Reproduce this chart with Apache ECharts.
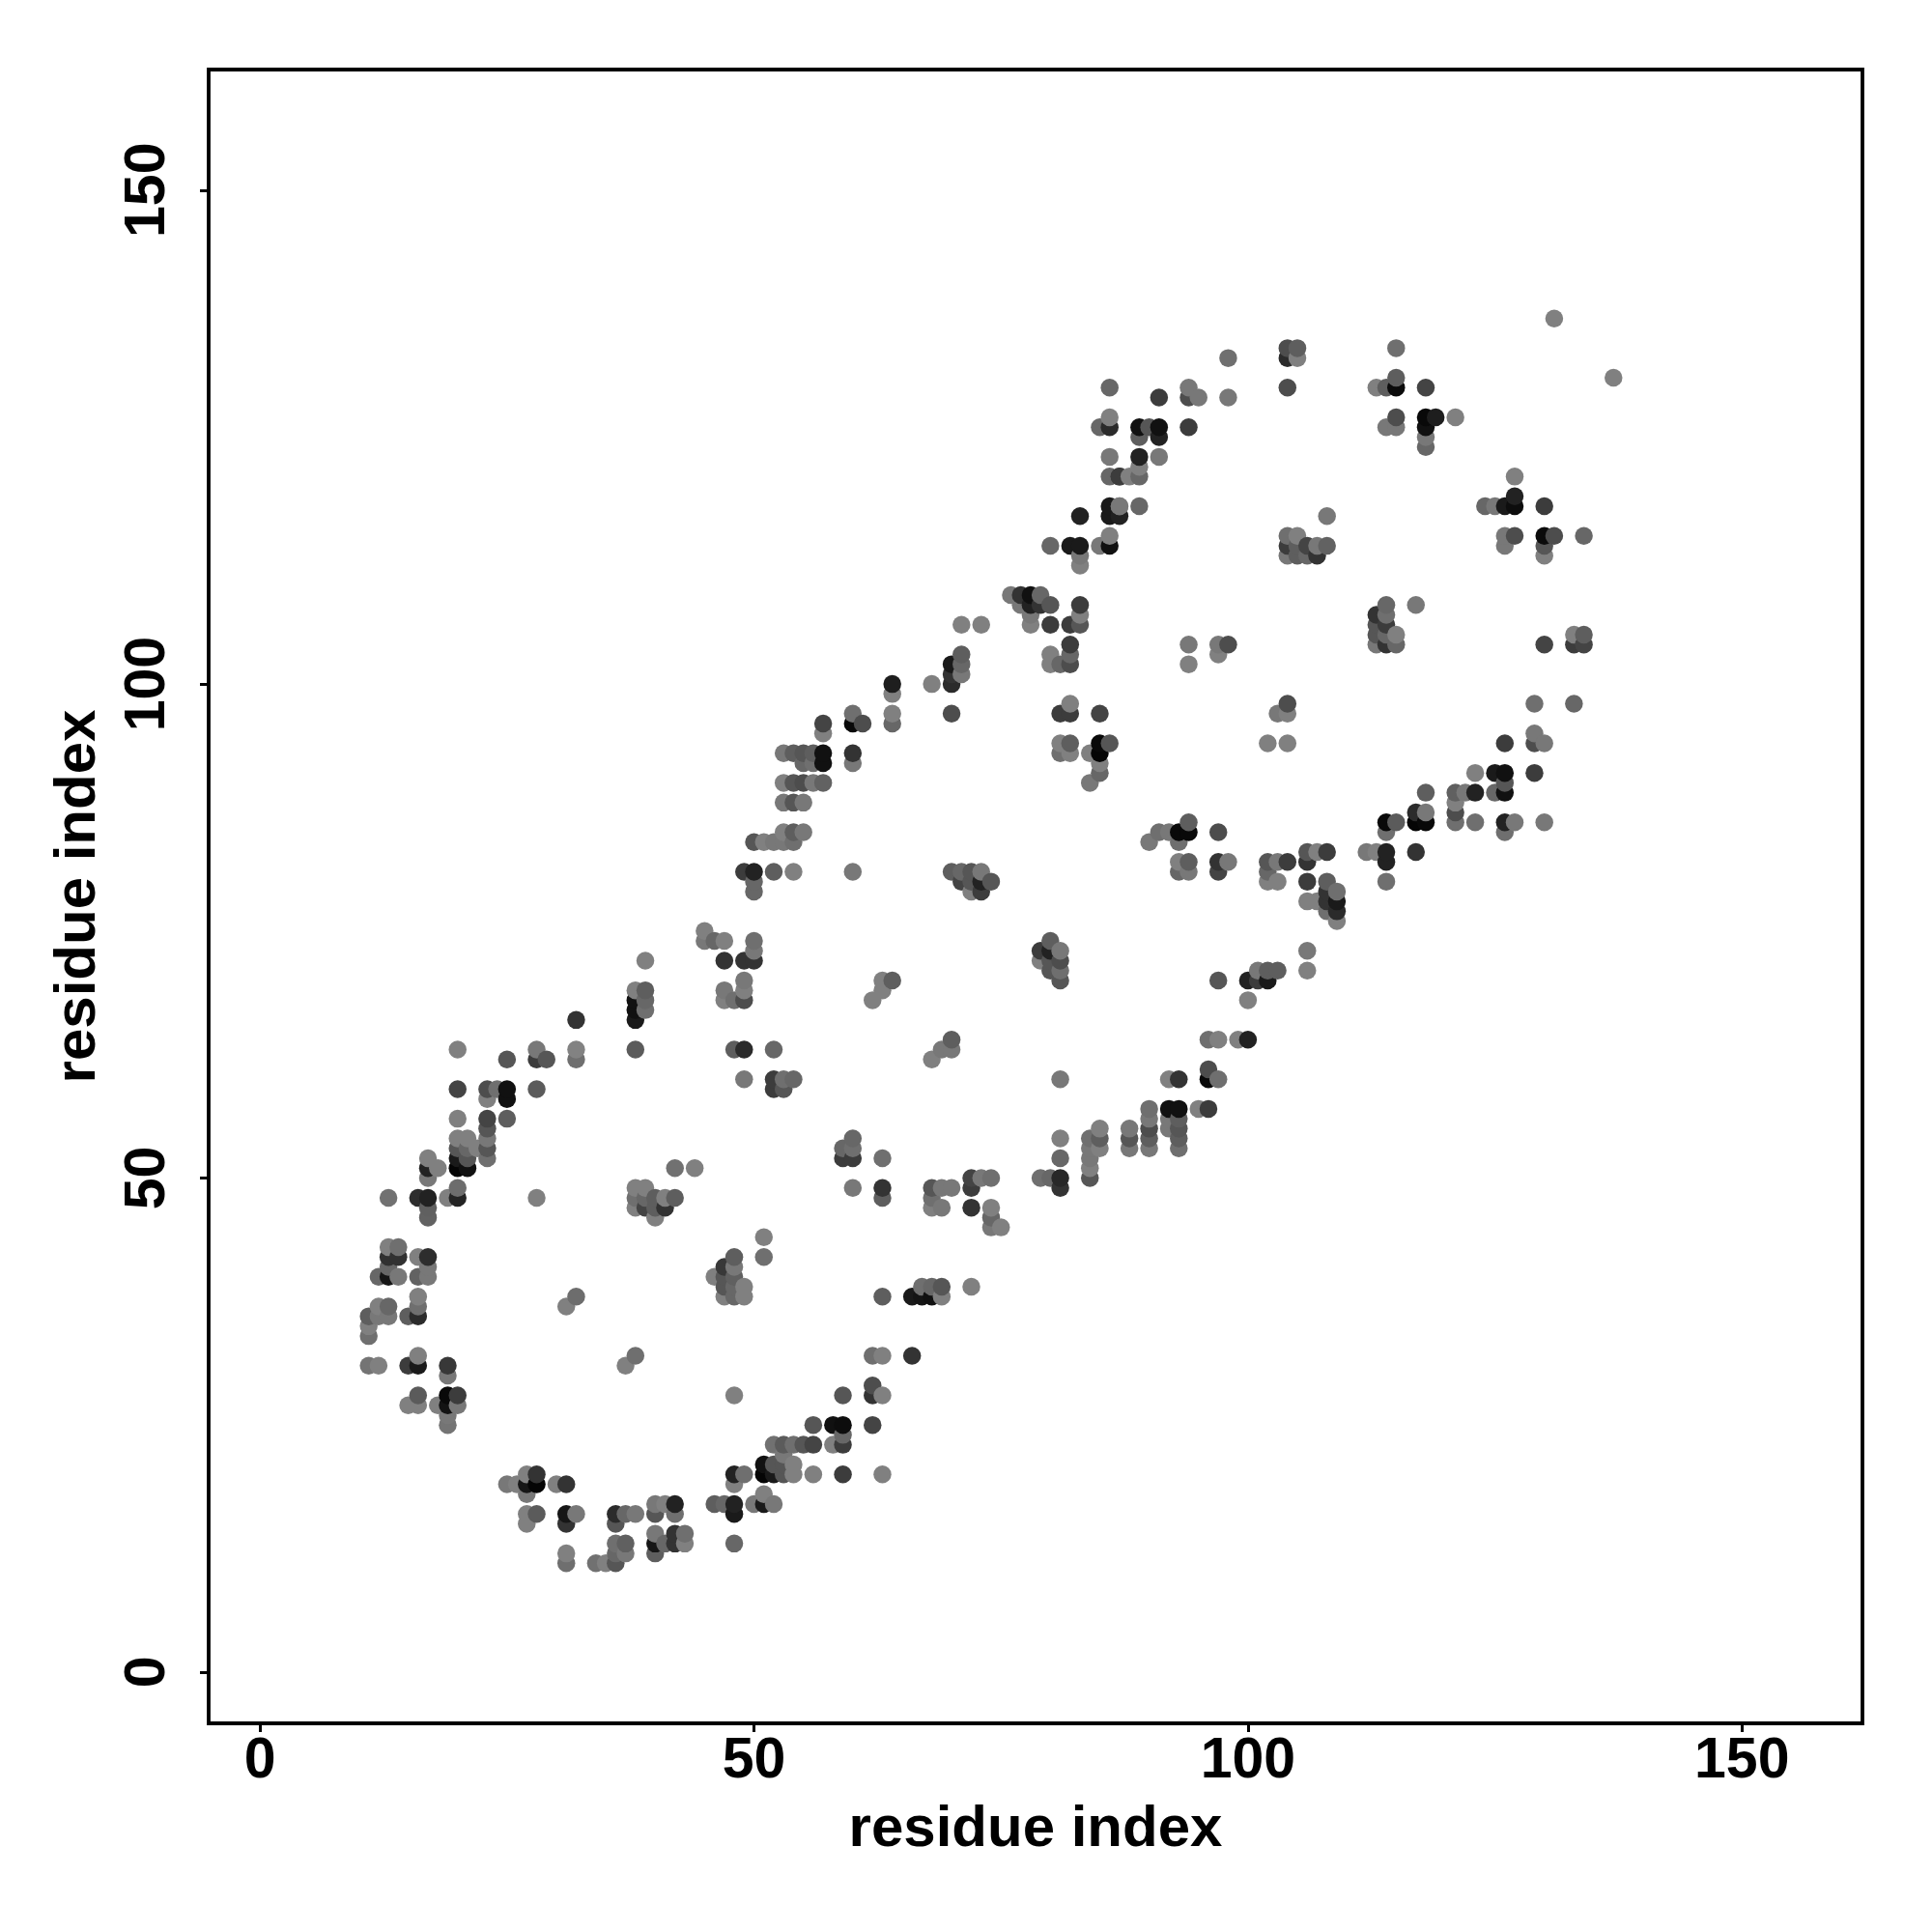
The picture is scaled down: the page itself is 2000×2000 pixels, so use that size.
<!DOCTYPE html>
<html>
<head>
<meta charset="utf-8">
<style>html,body{margin:0;padding:0;background:#fff}#c{width:2000px;height:2000px}</style>
<script src="https://cdn.jsdelivr.net/npm/echarts@6/dist/echarts.min.js"></script>
</head>
<body>
<div id="c"></div>
<script>
const tickValues = [0, 50, 100, 150];
const axisName = 'residue index';

const residueX = [
13,16,17,19,20,20,17,17,
13,14,13,14,13,12,13,14,
16,17,17,16,17,
16,12,13,16,11,12,13,15,16,11,11,
11,12,15,16,16,19,19,
16,19,20,15,16,18,19,20,19,19,
32,31,38,37,28,
38,39,38,39,40,41,42,38,39,40,41,40,
42,44,51,51,
46,47,48,48,47,47,47,48,48,49,49,48,
25,26,27,28,27,28,27,30,31,
27,28,27,31,32,31,
36,37,38,36,
40,41,42,40,42,
40,41,40,40,42,43,42,43,
36,37,36,37,36,35,34,31,31,
46,47,48,48,48,48,48,
50,51,51,52,
49,51,51,52,52,53,53,54,54,53,56,59,63,
52,53,54,55,56,58,59,59,56,58,59,62,
59,62,63,62,48,
62,63,66,
63,66,67,68,69,67,68,69,72,
60,63,63,63,59,60,59,60,60,
68,69,70,68,68,69,
72,73,74,72,72,74,74,74,75,
79,80,81,81,81,81,
84,84,84,84,84,85,85,85,
50,51,52,53,54,53,54,55,
49,50,52,54,60,50,50,
70,71,72,73,74,73,72,71,72,73,
50,50,49,50,49,49,49,
63,64,63,62,
70,70,69,68,
49,52,
49,52,53,54,52,53,
80,79,80,81,79,80,81,80,81,81,81,
20,25,28,28,29,32,32,32,38,
38,39,39,39,38,38,38,39,
47,47,47,48,48,45,45,46,47,
20,23,24,25,25,23,28,20,25,
23,23,23,23,23,
20,21,20,21,22,20,21,20,21,
17,17,18,17,
76,77,78,79,77,78,79,80,
78,78,80,82,83,83,83,71,73,
82,82,82,80,80,81,
71,70,71,70,71,70,
68,64,64,64,64,70,
60,60,61,57,57,
82,81,82,85,
81,82,81,82,84,85,86,85,85,85,84,
53,54,55,56,57,57,56,55,60,60,
53,54,55,56,57,53,54,55,
94,94,97,98,97,
104,103,104,102,104,
114,117,113,114,113,114,113,114,115,113,114,115,
123,125,126,
118,121,122,123,125,126,126,
121,121,121,123,126,126,
117,118,117,118,
114,115,114,114,114,114,112,113,117,
94,93,94,92,91,90,93,97,
93,94,93,94,97,98,97,
102,103,104,102,
106,107,108,106,106,108,
102,103,109,108,109,108,106,107,108,109,109,
106,106,
97,100,101,102,101,102,103,100,
96,97,99,100,
96,96,97,92,93,
90,92,93,95,96,
90,92,93,90,92,93,
88,88,88,90,90,93,93,
98,98,94,94,95,91,
89,90,91,89,91,94,
89,91,89,89,88,87,
89,87,87,
104,105,104,105,104,108,
104,105,104,105,106,107,108,104,105,106,107,
115,113,114,115,115,118,
115,114,115,118,119,118,118,118,121,
124,125,126,
131,137,127,127,127,130,
126,127,126,130,131,130,130,134,
130,133,134,133,134,
129,133,129,129,130,126,129,
127,130,
86,85,86,86,86,86,87,86,86,87,
83,80,82,83,85,86,86,83,83
];

const residueY = [
48,48,48,48,48,49,47,46,
43,43,42,42,41,40,40,40,
42,42,41,40,40,
38,37,37,37,36,36,36,36,36,35,34,
31,31,31,31,32,31,30,
28,28,28,27,27,27,27,27,26,25,
38,37,32,31,48,
49,49,48,48,48,48,48,47,47,47,47,46,
51,51,44,42,
40,41,42,41,40,39,38,39,38,39,38,40,
19,19,20,20,19,19,18,19,19,
16,16,15,16,16,15,
16,16,16,15,
17,17,17,16,16,
14,13,13,12,14,14,13,13,
13,13,12,12,11,11,11,12,11,
17,17,17,16,20,19,13,
17,18,17,17,
20,21,20,20,21,21,22,21,20,20,20,20,20,
23,23,23,23,23,23,23,24,25,25,25,25,
28,28,28,29,28,
32,32,32,
38,38,38,38,38,39,39,39,39,
49,49,48,52,52,52,53,53,54,
49,49,49,48,47,47,
50,50,50,49,47,47,46,45,45,
50,50,50,49,52,54,
50,51,52,53,54,55,54,53,
84,84,84,84,84,85,85,85,
81,81,81,81,81,80,79,
81,81,81,81,80,80,80,80,79,79,
74,73,72,72,70,69,68,
70,70,69,68,
64,63,63,62,
63,63,
60,60,60,60,59,59,
74,73,73,73,72,72,72,71,71,70,60,
63,62,63,62,62,63,62,66,63,
69,69,68,67,68,67,66,72,
72,69,68,68,63,75,74,74,74,
59,59,59,59,58,58,59,56,56,
56,55,54,53,52,
54,54,53,53,53,52,52,51,51,
52,51,51,50,
109,109,109,109,108,108,108,108,
107,106,106,106,106,107,108,106,106,
104,103,102,103,102,102,
103,102,102,101,101,100,
100,100,99,97,96,97,
97,96,96,96,95,
98,97,97,97,
94,94,93,93,93,94,94,93,92,91,90,
93,93,93,93,93,92,92,92,93,92,
90,90,90,90,90,88,88,88,
104,102,104,104,103,
98,97,97,94,94,
108,108,107,107,106,106,105,105,105,104,104,104,
91,91,91,
89,89,89,89,89,89,90,
88,87,86,86,86,85,
87,87,86,86,
86,86,85,83,82,80,83,83,83,
86,85,85,85,85,84,84,85,
82,82,81,81,82,82,81,
82,82,82,81,
83,83,83,82,80,80,
80,80,79,79,78,78,78,78,77,77,76,
73,71,
70,70,70,70,71,71,71,68,
64,64,64,64,
61,60,60,60,60,
57,57,57,57,57,
56,56,56,55,55,55,
55,54,53,54,53,54,53,
133,129,130,129,129,129,
126,126,126,125,125,126,
123,123,122,121,121,121,
118,118,117,
134,134,133,133,130,117,
115,115,114,114,114,114,114,113,113,113,113,
134,130,130,130,131,130,
127,126,126,127,127,126,125,124,127,
118,118,118,
137,131,121,119,118,118,
115,115,114,115,115,114,113,115,
104,105,105,104,104,
98,98,95,94,94,94,91,
86,86,
130,126,127,126,123,121,121,118,117,118,
117,114,114,114,114,114,115,113,112
];

const grayLevel = [
0x6a,0x2a,0x20,0x78,0x22,0x66,0x5a,0x5c,
0x78,0x68,0x2e,0x2e,0x60,0x60,0x15,0x70,
0x78,0x2a,0x70,0x5c,0x70,
0x78,0x78,0x60,0x68,0x58,0x70,0x70,0x58,0x28,0x78,0x68,
0x6c,0x78,0x38,0x18,0x78,0x34,0x70,
0x55,0x08,0x38,0x78,0x78,0x78,0x12,0x70,0x70,0x6c,
0x66,0x78,0x68,0x78,0x78,
0x78,0x78,0x68,0x60,0x58,0x78,0x58,0x78,0x40,0x58,0x30,0x78,
0x6a,0x78,0x78,0x68,
0x78,0x34,0x58,0x70,0x50,0x50,0x78,0x60,0x60,0x78,0x78,0x5a,
0x70,0x78,0x78,0x30,0x15,0x05,0x70,0x78,0x30,
0x78,0x55,0x78,0x15,0x70,0x30,
0x28,0x60,0x70,0x50,
0x70,0x78,0x20,0x50,0x68,
0x70,0x60,0x15,0x58,0x30,0x68,0x30,0x78,
0x68,0x5a,0x60,0x70,0x50,0x78,0x6a,0x78,0x68,
0x58,0x60,0x20,0x18,0x20,0x78,0x60,
0x70,0x78,0x18,0x70,
0x68,0x10,0x05,0x18,0x50,0x50,0x70,0x78,0x78,0x50,0x78,0x38,0x78,
0x6a,0x55,0x68,0x50,0x40,0x78,0x38,0x60,0x50,0x10,0x0c,0x40,
0x50,0x30,0x78,0x48,0x78,
0x68,0x78,0x30,
0x58,0x18,0x14,0x10,0x78,0x68,0x60,0x50,0x78,
0x70,0x30,0x58,0x68,0x38,0x38,0x60,0x68,0x60,
0x50,0x70,0x70,0x68,0x78,0x70,
0x40,0x70,0x68,0x38,0x30,0x78,0x60,0x70,0x78,
0x68,0x60,0x25,0x30,0x60,0x78,
0x50,0x78,0x70,0x70,0x68,0x78,0x58,0x78,
0x50,0x78,0x70,0x70,0x68,0x78,0x58,0x70,
0x38,0x20,0x58,0x78,0x70,0x60,0x60,
0x58,0x60,0x50,0x70,0x50,0x20,0x50,0x40,0x78,0x38,
0x68,0x70,0x30,0x30,0x70,0x78,0x48,
0x78,0x58,0x78,0x78,
0x58,0x70,0x70,0x78,
0x28,0x60,
0x70,0x38,0x68,0x60,0x38,0x50,
0x58,0x38,0x20,0x70,0x78,0x50,0x48,0x50,0x68,0x50,0x70,
0x78,0x50,0x70,0x38,0x50,0x80,0x68,0x30,0x55,
0x78,0x58,0x60,0x68,0x10,0x10,0x18,0x78,
0x30,0x70,0x78,0x68,0x58,0x78,0x70,0x60,0x78,
0x40,0x48,0x68,0x10,0x10,0x78,0x55,0x78,0x58,
0x40,0x50,0x70,0x50,0x68,
0x78,0x78,0x50,0x60,0x78,0x18,0x50,0x05,0x10,
0x78,0x20,0x78,0x70,
0x70,0x30,0x10,0x60,0x70,0x20,0x30,0x50,
0x70,0x78,0x38,0x38,0x50,0x78,0x38,0x78,0x78,
0x38,0x60,0x48,0x78,0x78,0x60,
0x58,0x18,0x60,0x30,0x70,0x28,
0x78,0x1c,0x78,0x78,0x60,0x48,
0x68,0x08,0x48,0x40,0x78,
0x78,0x38,0x38,0x40,
0x78,0x58,0x68,0x78,0x78,0x08,0x50,0x05,0x78,0x60,0x70,
0x70,0x58,0x50,0x58,0x10,0x10,0x68,0x60,0x30,0x70,
0x78,0x50,0x48,0x70,0x5c,0x70,0x50,0x70,
0x70,0x78,0x70,0x48,0x78,
0x48,0x70,0x78,0x78,0x78,
0x60,0x70,0x30,0x68,0x50,0x38,0x50,0x60,0x78,0x70,0x30,0x60,
0x78,0x18,0x10,
0x58,0x5a,0x70,0x20,0x60,0x10,0x50,
0x78,0x48,0x68,0x68,0x20,0x68,
0x28,0x70,0x05,0x08,
0x08,0x55,0x68,0x20,0x20,0x68,0x70,0x78,0x30,
0x58,0x08,0x08,0x70,0x68,0x70,0x68,0x48,
0x78,0x58,0x60,0x70,0x30,0x70,0x40,
0x50,0x70,0x38,0x60,
0x50,0x78,0x38,0x30,0x38,0x58,
0x78,0x78,0x68,0x30,0x18,0x30,0x78,0x78,0x68,0x28,0x78,
0x70,0x78,
0x50,0x20,0x38,0x18,0x70,0x58,0x58,0x78,
0x68,0x78,0x78,0x20,
0x48,0x08,0x68,0x78,0x30,
0x68,0x10,0x10,0x78,0x38,
0x70,0x70,0x58,0x48,0x70,0x50,
0x70,0x50,0x70,0x58,0x70,0x58,0x68,
0x68,0x70,0x70,0x48,0x70,0x38,
0x10,0x50,0x10,0x58,0x20,0x38,
0x20,0x70,0x78,0x60,0x78,0x38,
0x60,0x70,0x20,
0x48,0x58,0x28,0x78,0x48,0x70,
0x68,0x78,0x38,0x58,0x40,0x70,0x5c,0x70,0x58,0x60,0x30,
0x68,0x78,0x58,0x0a,0x58,0x40,
0x48,0x70,0x70,0x08,0x1c,0x10,0x70,0x60,0x78,
0x60,0x70,0x18,
0x78,0x78,0x78,0x20,0x0c,0x38,
0x70,0x48,0x70,0x0a,0x48,0x50,0x78,0x60,
0x40,0x78,0x58,0x38,0x40,
0x68,0x60,0x70,0x48,0x70,0x38,0x38,
0x70,0x70,
0x60,0x60,0x78,0x28,0x70,0x60,0x38,0x18,0x18,0x70,
0x20,0x60,0x18,0x18,0x70,0x10,0x78,0x70,0x78
];

function gray(v) { var g = Math.min(130, Math.round(v * 1.07)); return 'rgb(' + g + ',' + g + ',' + g + ')'; }

const points = residueX.map(function (x, i) { return [x, residueY[i], grayLevel[i]]; });
points.sort(function (a, b) { return a[0] - b[0] || a[1] - b[1]; });

const fontFamily = '"Liberation Sans", Arial, sans-serif';
const chart = echarts.init(document.getElementById('c'), null, { renderer: 'canvas' });

function axis(rotate, labelMargin, nameGap, nameRotate) {
  return {
    type: 'value', min: -5.2, max: 162.2,
    splitLine: { show: false },
    axisLine: { show: false, onZero: false },
    axisTick: { show: true, length: 9, customValues: tickValues, lineStyle: { color: '#000', width: 3 } },
    axisLabel: {
      show: true, customValues: tickValues, rotate: rotate, margin: labelMargin,
      color: '#000', fontFamily: fontFamily, fontWeight: 'bold', fontSize: 59,
      formatter: function (v) { return String(v); }
    },
    name: axisName, nameLocation: 'middle', nameGap: nameGap, nameRotate: nameRotate,
    nameTextStyle: { color: '#000', fontFamily: fontFamily, fontWeight: 'bold', fontSize: 60 }
  };
}

chart.setOption({
  animation: false,
  backgroundColor: '#fff',
  grid: { left: 216, top: 72, width: 1712, height: 1712, show: true, borderColor: '#000', borderWidth: 3.8, backgroundColor: 'transparent' },
  xAxis: axis(0, 10, 80, 0),
  yAxis: axis(90, 33, 105, 90),
  series: [{
    type: 'scatter',
    data: points,
    symbol: 'circle',
    symbolSize: 18.5,
    itemStyle: { opacity: 1, color: function (p) { return gray(p.value[2]); } }
  }]
});
</script>
</body>
</html>
